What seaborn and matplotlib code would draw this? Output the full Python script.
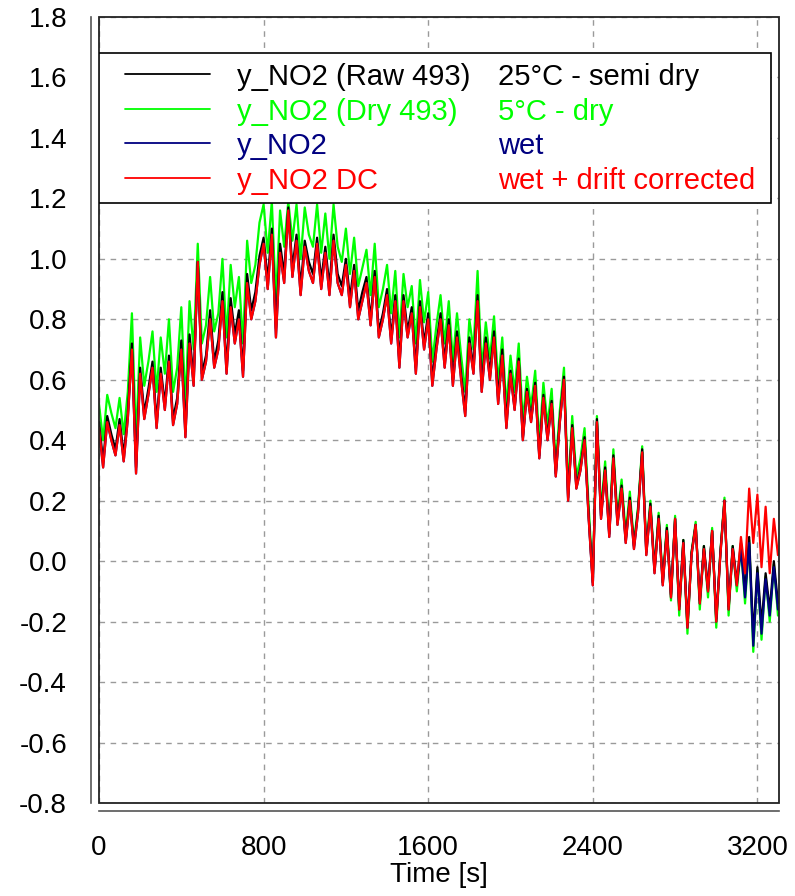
import matplotlib
matplotlib.use('Agg')
import matplotlib.pyplot as plt
import seaborn as sns
import pandas as pd
from matplotlib.patches import Rectangle

# time axis, one reading every 20 s
time_s = list(range(0, 3301, 20))

# y_NO2 DC (wet + drift corrected) - red
y_dc = [
    0.44, 0.31, 0.46, 0.40, 0.35, 0.45, 0.33, 0.47, 0.70, 0.29,
    0.62, 0.47, 0.55, 0.64, 0.44, 0.62, 0.50, 0.66, 0.45, 0.52,
    0.70, 0.41, 0.72, 0.58, 0.99, 0.60, 0.66, 0.80, 0.64, 0.70,
    0.86, 0.62, 0.84, 0.72, 0.80, 0.61, 0.92, 0.80, 0.86, 0.98,
    1.05, 0.90, 1.08, 0.74, 1.02, 0.92, 1.16, 0.94, 1.06, 0.88,
    1.04, 0.96, 0.92, 1.05, 0.90, 1.02, 0.88, 1.06, 0.92, 0.88,
    0.98, 0.84, 0.96, 0.80, 0.86, 0.92, 0.78, 0.94, 0.74, 0.80,
    0.88, 0.72, 0.86, 0.64, 0.86, 0.74, 0.82, 0.62, 0.84, 0.70,
    0.80, 0.58, 0.70, 0.80, 0.64, 0.78, 0.58, 0.74, 0.60, 0.48,
    0.72, 0.62, 0.86, 0.56, 0.72, 0.60, 0.74, 0.52, 0.68, 0.44,
    0.62, 0.50, 0.66, 0.40, 0.56, 0.46, 0.58, 0.34, 0.54, 0.40,
    0.52, 0.28, 0.46, 0.60, 0.20, 0.44, 0.24, 0.30, 0.40, 0.14,
    -0.08, 0.46, 0.14, 0.30, 0.08, 0.34, 0.12, 0.24, 0.06, 0.20,
    0.04, 0.16, 0.36, 0.02, 0.18, -0.04, 0.14, -0.08, 0.10, -0.12,
    0.14, -0.16, 0.06, -0.22, 0.02, 0.12, -0.14, 0.04, -0.10, 0.10,
    -0.20, 0.02, 0.20, -0.16, 0.04, -0.08, 0.08, -0.04, 0.24, 0.06,
    0.22, -0.02, 0.18, -0.04, 0.14, 0.02,
]

# y_NO2 (wet) - navy, same as DC until ~3120 s, then lower
y_wet_tail = [0.04, -0.12, 0.06, -0.28, -0.04, -0.24, -0.06, -0.18, -0.02, -0.16]
y_wet = y_dc[:156] + y_wet_tail

# y_NO2 (Dry 493) 5°C - green
y_dry = [
    0.52, 0.40, 0.55, 0.49, 0.44, 0.54, 0.42, 0.56, 0.82, 0.40,
    0.74, 0.58, 0.66, 0.76, 0.56, 0.74, 0.62, 0.80, 0.56, 0.64,
    0.84, 0.52, 0.86, 0.70, 1.05, 0.72, 0.78, 0.94, 0.76, 0.82,
    1.00, 0.74, 0.98, 0.84, 0.94, 0.72, 1.06, 0.92, 0.98, 1.12,
    1.18, 1.02, 1.19, 0.86, 1.16, 1.04, 1.19, 1.06, 1.18, 1.00,
    1.17, 1.08, 1.04, 1.18, 1.02, 1.15, 1.00, 1.18, 1.04, 0.99,
    1.10, 0.95, 1.07, 0.91, 0.97, 1.03, 0.88, 1.05, 0.84, 0.90,
    0.98, 0.82, 0.96, 0.74, 0.95, 0.84, 0.91, 0.72, 0.93, 0.79,
    0.89, 0.66, 0.78, 0.88, 0.72, 0.86, 0.66, 0.82, 0.68, 0.56,
    0.80, 0.70, 0.96, 0.63, 0.79, 0.67, 0.81, 0.59, 0.74, 0.51,
    0.68, 0.56, 0.72, 0.46, 0.61, 0.51, 0.63, 0.39, 0.59, 0.45,
    0.57, 0.32, 0.50, 0.64, 0.24, 0.48, 0.28, 0.34, 0.44, 0.18,
    -0.06, 0.48, 0.17, 0.33, 0.11, 0.37, 0.15, 0.27, 0.09, 0.23,
    0.06, 0.18, 0.38, 0.04, 0.20, -0.03, 0.16, -0.07, 0.12, -0.13,
    0.15, -0.18, 0.07, -0.24, 0.03, 0.13, -0.16, 0.05, -0.12, 0.11,
    -0.22, 0.03, 0.21, -0.18, 0.05, -0.10, 0.05, -0.14, 0.07, -0.30,
    -0.03, -0.26, -0.05, -0.20, -0.01, -0.18,
]

# y_NO2 (Raw 493) 25°C - black
y_raw = [
    0.46, 0.33, 0.48, 0.42, 0.37, 0.47, 0.35, 0.49, 0.72, 0.31,
    0.64, 0.49, 0.57, 0.66, 0.46, 0.64, 0.52, 0.68, 0.47, 0.54,
    0.73, 0.43, 0.75, 0.60, 0.99, 0.62, 0.68, 0.83, 0.66, 0.73,
    0.89, 0.64, 0.87, 0.75, 0.83, 0.63, 0.95, 0.83, 0.89, 1.01,
    1.07, 0.93, 1.10, 0.77, 1.05, 0.95, 1.17, 0.97, 1.08, 0.91,
    1.06, 0.99, 0.95, 1.07, 0.93, 1.04, 0.91, 1.08, 0.95, 0.91,
    1.00, 0.87, 0.98, 0.83, 0.89, 0.94, 0.80, 0.96, 0.76, 0.82,
    0.90, 0.74, 0.88, 0.66, 0.88, 0.76, 0.84, 0.64, 0.86, 0.72,
    0.82, 0.60, 0.72, 0.82, 0.66, 0.80, 0.60, 0.76, 0.62, 0.50,
    0.74, 0.64, 0.88, 0.58, 0.74, 0.62, 0.76, 0.54, 0.70, 0.46,
    0.63, 0.51, 0.67, 0.41, 0.57, 0.47, 0.59, 0.35, 0.55, 0.41,
    0.53, 0.29, 0.47, 0.61, 0.21, 0.45, 0.25, 0.31, 0.41, 0.15,
    -0.07, 0.47, 0.15, 0.31, 0.09, 0.35, 0.13, 0.25, 0.07, 0.21,
    0.05, 0.17, 0.37, 0.03, 0.19, -0.03, 0.15, -0.07, 0.11, -0.11,
    0.14, -0.15, 0.07, -0.21, 0.03, 0.12, -0.13, 0.05, -0.09, 0.10,
    -0.19, 0.03, 0.20, -0.15, 0.05, -0.07, 0.06, -0.10, 0.08, -0.25,
    -0.02, -0.21, -0.04, -0.16, 0.00, -0.14,
]

series_names = ['y_NO2 (Dry 493)', 'y_NO2 (Raw 493)', 'y_NO2', 'y_NO2 DC']
series_desc = ['5°C - dry', '25°C - semi dry', 'wet', 'wet + drift corrected']
series_colors = ['#00ff00', '#000000', '#000080', '#ff0000']
legend_order = [1, 0, 2, 3]

x_ticks = [0, 800, 1600, 2400, 3200]
y_ticks = [-0.8, -0.6, -0.4, -0.2, 0.0, 0.2, 0.4, 0.6, 0.8, 1.0, 1.2, 1.4, 1.6, 1.8]

frames = []
for name, vals in zip(series_names, [y_dry, y_raw, y_wet, y_dc]):
    frames.append(pd.DataFrame({'time': time_s, 'value': vals, 'series': name}))
df = pd.concat(frames, ignore_index=True)

sns.set_style('white')
plt.rcParams['font.family'] = ['Liberation Sans', 'DejaVu Sans']
plt.rcParams['axes.unicode_minus'] = False
plt.rcParams['text.color'] = 'black'
plt.rcParams['axes.labelcolor'] = 'black'

fig = plt.figure(figsize=(7.95, 8.96), dpi=100)
ax = fig.add_axes([99 / 795, 1 - 803 / 896, 680 / 795, 786 / 896])

sns.lineplot(data=df, x='time', y='value', hue='series', hue_order=series_names,
             palette=dict(zip(series_names, series_colors)), estimator=None,
             sort=False, legend=False, linewidth=1.6, ax=ax)

ax.set_xlim(0, 3305)
ax.set_ylim(-0.8, 1.8)
ax.set_xticks(x_ticks)
ax.set_yticks(y_ticks)
ax.yaxis.set_major_formatter('{x:.1f}')
ax.grid(True, color='#9a9a9a', linestyle=(0, (4, 4)), linewidth=1)
ax.set_xlabel('Time [s]', fontsize=20, labelpad=1, color='black')
ax.set_ylabel('')

# detached axis lines + closed frame around the plot area
for side in ['top', 'right']:
    ax.spines[side].set_visible(False)
for side in ['left', 'bottom']:
    ax.spines[side].set_position(('outward', 6))
    ax.spines[side].set_color('#555555')
    ax.spines[side].set_linewidth(1.2)
ax.add_patch(Rectangle((0, 0), 1, 1, transform=ax.transAxes, fill=False,
                       ec='#222222', lw=1.3, clip_on=False, zorder=4))
ax.tick_params(direction='out', length=11, width=1.2, color='#555555',
               labelsize=20, labelcolor='black', pad=6)

# legend box with two text columns
ax.add_patch(Rectangle((0, 0.7634), 0.988, 0.1908, transform=ax.transAxes,
                       fc='white', ec='black', lw=1.2, zorder=5))
row_y = [0.9237, 0.8791, 0.8359, 0.7913]
for ry, k in zip(row_y, legend_order):
    ax.plot([0.038, 0.163], [ry + 0.004, ry + 0.004], transform=ax.transAxes,
            color=series_colors[k], lw=1.3, zorder=6)
    ax.text(0.203, ry, series_names[k], transform=ax.transAxes, color=series_colors[k],
            fontsize=21, va='center', ha='left', zorder=6)
    ax.text(0.587, ry, series_desc[k], transform=ax.transAxes, color=series_colors[k],
            fontsize=21, va='center', ha='left', zorder=6)

ax.set_xlim(0, 3305)
ax.set_ylim(-0.8, 1.8)

plt.savefig('out.png', dpi=100)
